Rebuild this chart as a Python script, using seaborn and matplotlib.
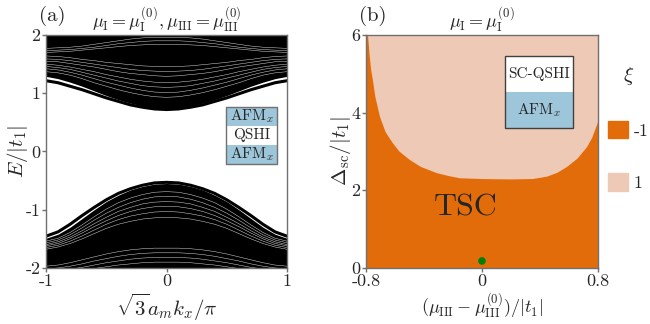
import pandas as pd
import seaborn as sns
import matplotlib.pyplot as plt
from matplotlib.patches import Patch, Rectangle

sns.set_style("ticks")
plt.rcParams["font.family"] = ["cmr10"]
plt.rcParams["mathtext.fontset"] = "cm"
plt.rcParams["axes.unicode_minus"] = False
plt.rcParams["axes.formatter.use_mathtext"] = True

# Band data (a): energies at k = 0, 0.1, ..., 1 (bands are symmetric in k) ----
k_half = [0.0, 0.1, 0.2, 0.3, 0.4, 0.5, 0.6, 0.7, 0.8, 0.9, 1.0]
cb_edge = [0.72, 0.73, 0.76, 0.80, 0.86, 0.92, 0.99, 1.06, 1.12, 1.18, 1.215]
cb_bulk = [0.74, 0.75, 0.78, 0.83, 0.89, 0.96, 1.04, 1.12, 1.19, 1.25, 1.29]
vb_edge = [-0.53, -0.54, -0.58, -0.64, -0.72, -0.83, -0.96, -1.10, -1.25, -1.38, -1.455]
vb_bulk = [-0.55, -0.56, -0.60, -0.66, -0.75, -0.86, -1.00, -1.15, -1.30, -1.42, -1.49]
# white gaps between the dense bands
gaps = [
    [0.93, 0.94, 0.97, 1.01, 1.06, 1.12, 1.18, 1.25, 1.31, 1.35, 1.37],
    [1.01, 1.02, 1.05, 1.09, 1.14, 1.19, 1.25, 1.31, 1.36, 1.40, 1.42],
    [1.10, 1.11, 1.13, 1.17, 1.21, 1.26, 1.31, 1.36, 1.41, 1.44, 1.46],
    [1.18, 1.19, 1.21, 1.24, 1.28, 1.32, 1.37, 1.41, 1.45, 1.48, 1.50],
    [1.29, 1.30, 1.32, 1.34, 1.37, 1.41, 1.45, 1.48, 1.51, 1.54, 1.55],
    [1.37, 1.38, 1.39, 1.41, 1.44, 1.47, 1.50, 1.53, 1.56, 1.58, 1.59],
    [1.46, 1.46, 1.47, 1.49, 1.51, 1.53, 1.56, 1.58, 1.61, 1.63, 1.64],
    [1.96, 1.96, 1.95, 1.93, 1.90, 1.87, 1.84, 1.81, 1.79, 1.78, 1.77],
    [1.90, 1.90, 1.89, 1.87, 1.85, 1.82, 1.79, 1.77, 1.75, 1.74, 1.73],
    [1.84, 1.84, 1.83, 1.82, 1.80, 1.78, 1.76, 1.74, 1.72, 1.71, 1.70],
    [-0.69, -0.70, -0.74, -0.80, -0.88, -0.99, -1.12, -1.26, -1.39, -1.49, -1.54],
    [-0.77, -0.78, -0.82, -0.88, -0.96, -1.06, -1.18, -1.31, -1.43, -1.52, -1.57],
    [-0.86, -0.87, -0.90, -0.96, -1.03, -1.13, -1.24, -1.36, -1.47, -1.55, -1.60],
    [-0.94, -0.95, -0.98, -1.03, -1.10, -1.19, -1.29, -1.40, -1.50, -1.58, -1.62],
    [-1.03, -1.04, -1.07, -1.11, -1.17, -1.25, -1.35, -1.45, -1.54, -1.61, -1.65],
    [-1.13, -1.14, -1.16, -1.20, -1.25, -1.32, -1.41, -1.50, -1.58, -1.64, -1.68],
    [-1.66, -1.66, -1.67, -1.69, -1.72, -1.76, -1.81, -1.86, -1.91, -1.95, -1.97],
    [-1.74, -1.74, -1.75, -1.77, -1.80, -1.84, -1.88, -1.93, -1.97, -2.00, -2.02],
    [-1.82, -1.82, -1.83, -1.85, -1.88, -1.91, -1.95, -1.99, -2.02, -2.04, -2.05],
    [-1.90, -1.90, -1.91, -1.93, -1.95, -1.98, -2.01, -2.04, -2.06, -2.07, -2.08],
]

# Phase boundary (b): xi = 1 above the curve, xi = -1 below ------------------
mu_b = [-0.786, -0.775, -0.764, -0.752, -0.735, -0.703, -0.665, -0.614, -0.57,
        -0.497, -0.42, -0.31, -0.22, -0.152, 0.0, 0.2, 0.35, 0.448, 0.52,
        0.586, 0.66, 0.724, 0.76, 0.80]
d_b = [6.0, 5.5, 5.1, 4.83, 4.4, 3.89, 3.5, 3.21, 3.0, 2.78, 2.6, 2.44, 2.36,
       2.31, 2.29, 2.28, 2.29, 2.35, 2.45, 2.60, 2.82, 3.11, 3.35, 3.75]
dot_mu, dot_d = [0.0], [0.18]

(orange, peach, blue) = ('#E36C0A', '#EEC9B5', '#9EC6DA')
edge = '#707070'


def mirror(v):
    return list(v[:0:-1]) + list(v)


k = [-x for x in k_half[:0:-1]] + list(k_half)

fig = plt.figure(figsize=(6.5, 3.24), dpi=100)
axA = fig.add_axes([0.0708, 0.173, 0.3708, 0.719])
axB = fig.add_axes([0.563, 0.173, 0.357, 0.719])

# Panel (a) ###################################################################
axA.fill_between(k, mirror(cb_bulk), 2.1, color='k', lw=0)
axA.fill_between(k, -2.1, mirror(vb_bulk), color='k', lw=0)
edges = pd.DataFrame({
    'k': k * 2, 'E': mirror(cb_edge) + mirror(vb_edge),
    'line': ['c'] * len(k) + ['v'] * len(k)
})
sns.lineplot(data=edges, x='k', y='E', units='line', estimator=None,
             sort=False, color='k', lw=2.2, ax=axA)
gapDF = pd.DataFrame({
    'k': k * len(gaps),
    'E': sum([mirror(g) for g in gaps], []),
    'line': sum([[i] * len(k) for i in range(len(gaps))], [])
})
sns.lineplot(data=gapDF, x='k', y='E', units='line', estimator=None,
             sort=False, color='white', lw=0.35, alpha=0.85, ax=axA)
axA.set_xlim(-1, 1)
axA.set_ylim(-2, 2)
axA.set_xticks([-1, 0, 1], ['-1', '0', '1'])
axA.set_yticks([-2, -1, 0, 1, 2], ['-2', '-1', '0', '1', '2'])
axA.set_xlabel(r'$\sqrt{3}a_m k_x/\pi$', fontsize=15, labelpad=2)
axA.set_ylabel(r'$E/|t_1|$', fontsize=15, labelpad=-3)
axA.set_title(r'$\mu_{\rm I}=\mu_{\rm I}^{(0)}, \mu_{\rm III}=\mu_{\rm III}^{(0)}$',
              fontsize=13, pad=3)
axA.text(-0.03, 1.04, '(a)', transform=axA.transAxes, fontsize=15,
         ha='left', va='bottom')
# legend-like box
rows = [('AFM$_x$', blue), ('QSHI', 'white'), ('AFM$_x$', blue)]
(bx0, bx1, by1, rh) = (0.494, 0.917, 0.77, 0.327)
for (i, (lab, col)) in enumerate(rows):
    y0 = by1 - (i + 1) * rh
    axA.add_patch(Rectangle((bx0, y0), bx1 - bx0, rh, fc=col, ec='none', zorder=5))
    axA.text((bx0 + bx1) / 2, y0 + rh / 2, lab, ha='center', va='center',
             fontsize=11, zorder=6)
axA.add_patch(Rectangle((bx0, by1 - 3 * rh), bx1 - bx0, 3 * rh, fc='none',
                        ec=edge, lw=1, zorder=7))

# Panel (b) ###################################################################
axB.fill_between([-0.8, 0.8], 0, 6, color=orange, lw=0)
axB.fill(mu_b + [0.8], d_b + [6.0], color=peach, lw=0)
sns.scatterplot(x=dot_mu, y=dot_d, color='green', s=30, edgecolor='none',
                ax=axB, zorder=5)
axB.text(-0.11, 1.55, 'TSC', fontsize=23, ha='center', va='center')
(sx0, sx1, sy0, sy1, sym) = (0.159, 0.628, 3.6, 5.45, 4.52)
axB.add_patch(Rectangle((sx0, sym), sx1 - sx0, sy1 - sym, fc='white', ec='none'))
axB.add_patch(Rectangle((sx0, sy0), sx1 - sx0, sym - sy0, fc=blue, ec='none'))
axB.add_patch(Rectangle((sx0, sy0), sx1 - sx0, sy1 - sy0, fc='none', ec='#404040', lw=1))
axB.text((sx0 + sx1) / 2, (sym + sy1) / 2, 'SC-QSHI', ha='center', va='center', fontsize=11)
axB.text((sx0 + sx1) / 2, (sy0 + sym) / 2, 'AFM$_x$', ha='center', va='center', fontsize=11)
axB.set_xlim(-0.8, 0.8)
axB.set_ylim(0, 6)
axB.set_xticks([-0.8, 0, 0.8], ['-0.8', '0', '0.8'])
axB.set_yticks([0, 2, 4, 6], ['0', '2', '4', '6'])
axB.set_xlabel(r'$(\mu_{\rm III}-\mu_{\rm III}^{(0)})/|t_1|$', fontsize=13, labelpad=2)
axB.set_ylabel(r'$\Delta_{\rm sc}/|t_1|$', fontsize=15, labelpad=-1)
axB.set_title(r'$\mu_{\rm I}=\mu_{\rm I}^{(0)}$', fontsize=13, pad=3)
axB.text(-0.03, 1.04, '(b)', transform=axB.transAxes, fontsize=15,
         ha='left', va='bottom')

for ax in (axA, axB):
    for s in ax.spines.values():
        s.set_color(edge)
        s.set_linewidth(1)
        s.set_visible(True)
    ax.tick_params(labelsize=13, length=3, width=1, color=edge, pad=1)

fig.legend(handles=[Patch(color=orange, label='-1'), Patch(color=peach, label='1')],
           title=r'$\xi$', title_fontsize=15, fontsize=13, frameon=False,
           loc='upper left', bbox_to_anchor=(0.936, 0.80), borderpad=0,
           borderaxespad=0, handlelength=1.1, handleheight=1.1,
           labelspacing=1.9, handletextpad=0.3)

fig.savefig('out.png', dpi=100)
